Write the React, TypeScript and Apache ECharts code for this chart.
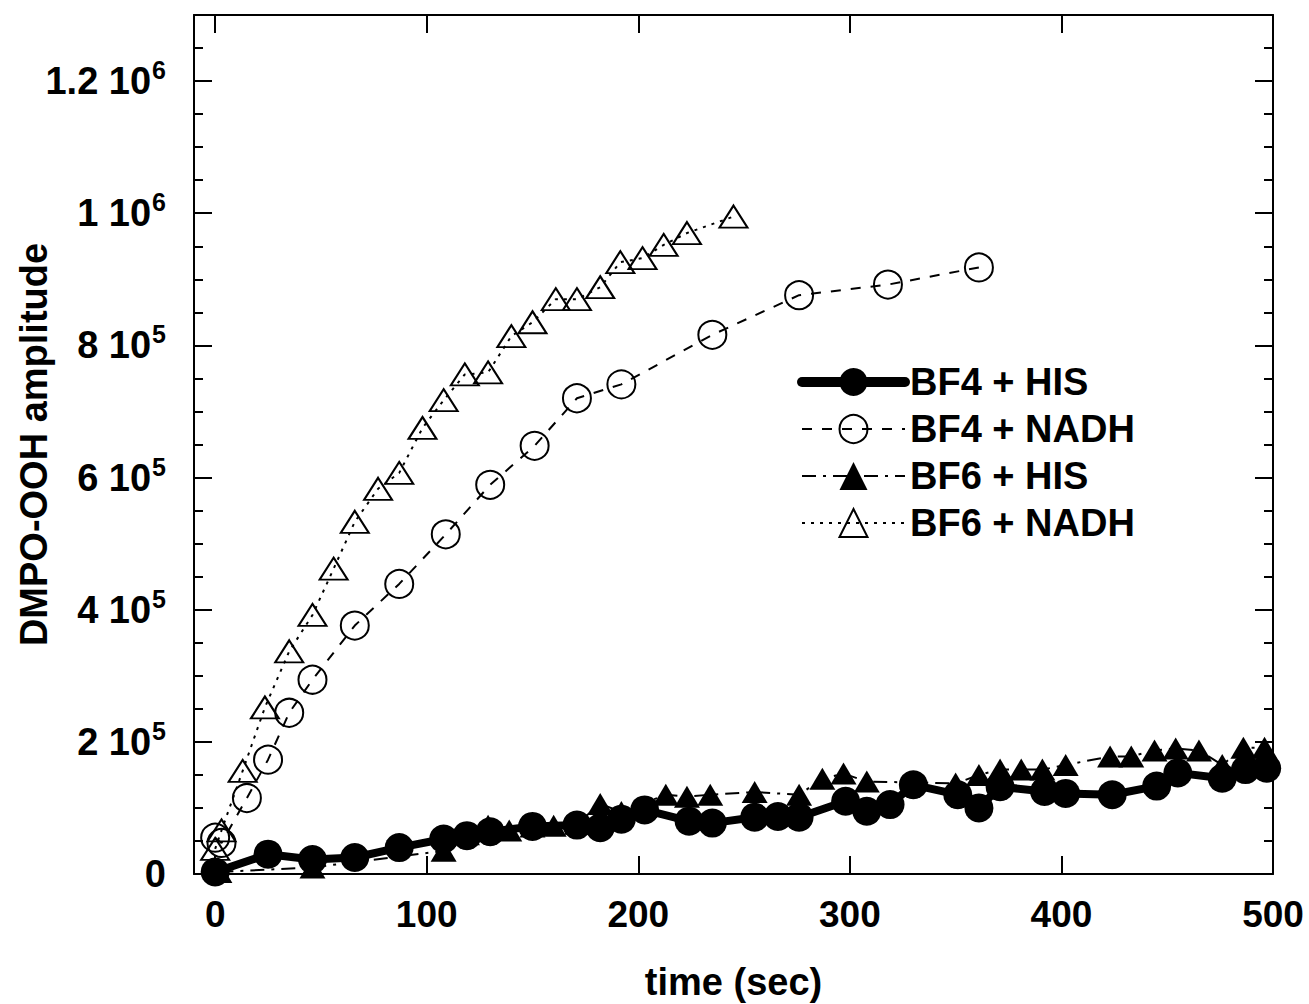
import React, { useEffect, useRef } from "react";
import * as echarts from "echarts";

// ---- data ----
const bf4HisX = [0, 25, 46, 66, 87, 108, 119, 130, 150, 171, 182, 192, 203, 224, 235, 255, 266, 276, 298, 308, 319, 330, 351, 361, 371, 392, 402, 424, 445, 455, 476, 487, 497];
const bf4HisY = [3000, 30000, 22000, 25000, 40000, 53000, 58000, 64000, 72000, 74000, 70000, 83000, 97000, 80000, 77000, 86000, 87000, 86000, 110000, 95000, 105000, 135000, 120000, 100000, 132000, 125000, 122000, 120000, 133000, 153000, 145000, 158000, 160000];

const bf4NadhX = [0, 3, 15, 25, 35, 46, 66, 87, 109, 130, 151, 171, 192, 235, 276, 318, 361];
const bf4NadhY = [55000, 47000, 115000, 173000, 244000, 294000, 376000, 439000, 514000, 589000, 648000, 720000, 741000, 816000, 876000, 892000, 918000];

const bf6HisX = [2, 46, 108, 119, 129, 139, 150, 160, 171, 182, 192, 213, 223, 234, 255, 276, 287, 297, 308, 350, 361, 371, 381, 391, 402, 423, 433, 444, 454, 465, 476, 486, 496];
const bf6HisY = [3000, 10000, 35000, 60000, 73000, 66000, 72000, 73000, 76000, 106000, 94000, 120000, 117000, 120000, 124000, 120000, 144000, 152000, 140000, 137000, 150000, 158000, 158000, 158000, 165000, 178000, 178000, 187000, 190000, 187000, 165000, 191000, 191000];

const bf6NadhX = [0, 3, 13, 23.5, 35, 46, 56, 66, 77, 87, 98, 108, 118, 129, 140, 150, 161, 171, 182, 191.5, 202, 212, 223, 245];
const bf6NadhY = [38000, 66000, 156000, 252000, 337000, 392000, 462000, 533000, 583000, 607000, 675000, 717000, 756000, 759000, 814000, 835000, 870000, 870000, 888000, 926000, 932000, 952000, 970000, 995000];

const seriesNames = ["BF4 + HIS", "BF4 + NADH", "BF6 + HIS", "BF6 + NADH"];

const xTickValues = [0, 100, 200, 300, 400, 500];
const yTickValues = [0, 200000, 400000, 600000, 800000, 1000000, 1200000];
const yTickMantissa = ["0", "2", "4", "6", "8", "1", "1.2"];
const yTickExponent = ["", "5", "5", "5", "5", "6", "6"];

const xAxisName = "time (sec)";
const yAxisName = "DMPO-OOH amplitude";

const FONT = "'Liberation Sans', Arial, Helvetica, sans-serif";

function pairs(xs: number[], ys: number[]) {
  return xs.map((x, i) => [x, ys[i]]);
}

export default function App() {
  const ref = useRef<HTMLDivElement>(null);

  useEffect(() => {
    if (!ref.current) return;
    const chart = echarts.init(ref.current, undefined, { renderer: "svg" });

    const axisLine = { show: true, onZero: false, lineStyle: { color: "#000", width: 2 } };

    const option: any = {
      animation: false,
      backgroundColor: "#fff",
      textStyle: { fontFamily: FONT },
      grid: { left: 194, right: 36, top: 15, bottom: 130, containLabel: false, outerBoundsMode: "none" },
      legend: {
        data: [
          { name: seriesNames[0], lineStyle: { width: 10, cap: "round" } },
          { name: seriesNames[1] },
          { name: seriesNames[2] },
          { name: seriesNames[3] },
        ],
        orient: "vertical",
        left: 797,
        top: 363,
        padding: 0,
        itemWidth: 103,
        itemHeight: 35,
        itemGap: 9,
        textStyle: { fontFamily: FONT, fontSize: 38, fontWeight: "bold", color: "#000" },
      },
      xAxis: [
        {
          type: "value",
          min: -10,
          max: 500,
          position: "bottom",
          name: xAxisName,
          nameLocation: "middle",
          nameGap: 89,
          nameMoveOverlap: false,
          nameTextStyle: { fontFamily: FONT, fontSize: 38, fontWeight: "bold", color: "#000" },
          axisLine,
          axisTick: { show: true, inside: true, length: 18, lineStyle: { color: "#000", width: 2 }, customValues: xTickValues },
          axisLabel: { show: true, margin: 22, fontFamily: FONT, fontSize: 37, fontWeight: "bold", color: "#000", customValues: xTickValues },
          splitLine: { show: false },
        },
        {
          type: "value",
          min: -10,
          max: 500,
          position: "top",
          axisLine,
          axisTick: { show: true, inside: true, length: 18, lineStyle: { color: "#000", width: 2 }, customValues: xTickValues },
          axisLabel: { show: false },
          splitLine: { show: false },
        },
      ],
      yAxis: [
        {
          type: "value",
          min: 0,
          max: 1300000,
          interval: 200000,
          position: "left",
          name: yAxisName,
          nameLocation: "middle",
          nameGap: 141,
          nameMoveOverlap: false,
          nameTextStyle: { fontFamily: FONT, fontSize: 38, fontWeight: "bold", color: "#000" },
          axisLine,
          axisTick: { show: true, inside: true, length: 18, lineStyle: { color: "#000", width: 2 } },
          minorTick: { show: true, splitNumber: 4, length: 9, lineStyle: { color: "#000", width: 2 } },
          axisLabel: {
            show: true,
            margin: 28,
            color: "#000",
            formatter: (v: number) => {
              const idx = yTickValues.indexOf(v);
              if (idx < 0) return "";
              const e = yTickExponent[idx];
              return e ? `{m|${yTickMantissa[idx]} 10}{e|${e}}` : `{m|${yTickMantissa[idx]}}`;
            },
            rich: {
              m: { fontFamily: FONT, fontSize: 38, fontWeight: "bold", color: "#000", lineHeight: 42 },
              e: { fontFamily: FONT, fontSize: 25, fontWeight: "bold", color: "#000", lineHeight: 42, padding: [0, 0, 22, 1] },
            },
          },
          splitLine: { show: false },
        },
        {
          type: "value",
          min: 0,
          max: 1300000,
          interval: 200000,
          position: "right",
          axisLine,
          axisTick: { show: true, inside: true, length: 18, lineStyle: { color: "#000", width: 2 } },
          minorTick: { show: true, splitNumber: 4, length: 9, lineStyle: { color: "#000", width: 2 } },
          axisLabel: { show: false },
          splitLine: { show: false },
        },
      ],
      series: [
        {
          name: seriesNames[3],
          type: "line",
          data: pairs(bf6NadhX, bf6NadhY),
          symbol: "triangle",
          symbolSize: [28, 22],
          lineStyle: { color: "#000", width: 2, type: [3, 6] },
          itemStyle: { color: "transparent", borderColor: "#000", borderWidth: 2 },
          z: 2,
        },
        {
          name: seriesNames[1],
          type: "line",
          data: pairs(bf4NadhX, bf4NadhY),
          symbol: "circle",
          symbolSize: 28,
          lineStyle: { color: "#000", width: 2, type: [10, 10] },
          itemStyle: { color: "transparent", borderColor: "#000", borderWidth: 2 },
          z: 2,
        },
        {
          name: seriesNames[2],
          type: "line",
          data: pairs(bf6HisX, bf6HisY),
          symbol: "triangle",
          symbolSize: [26, 22],
          lineStyle: { color: "#000", width: 2, type: [14, 7, 3, 7] },
          itemStyle: { color: "#000", borderColor: "#000", borderWidth: 0 },
          z: 3,
        },
        {
          name: seriesNames[0],
          type: "line",
          data: pairs(bf4HisX, bf4HisY),
          symbol: "circle",
          symbolSize: 29,
          lineStyle: { color: "#000", width: 8, cap: "round" },
          itemStyle: { color: "#000", borderColor: "#000", borderWidth: 0 },
          z: 4,
        },
      ],
    };

    chart.setOption(option);
    return () => chart.dispose();
  }, []);

  return <div ref={ref} style={{ width: 1309, height: 1004, position: "absolute", left: 0, top: 0 }} />;
}
